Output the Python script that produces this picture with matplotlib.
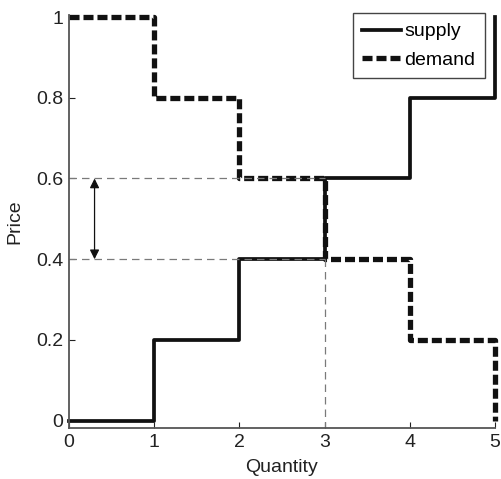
import numpy as np
import matplotlib.pyplot as plt

plt.rcParams['font.family'] = ['Liberation Sans', 'DejaVu Sans']

# step curves: value on [q, q+1)
quantity = [0, 1, 2, 3, 4, 5]
supply = [0, 0.2, 0.4, 0.6, 0.8, 1.0]
demand = [1.0, 0.8, 0.6, 0.4, 0.2, 0.0]

price_hi = 0.6
price_lo = 0.4
q_star = 3
arrow_q = 0.3

fig = plt.figure(figsize=(5.01, 4.79), dpi=100)
ax = fig.add_axes([0.1377, 0.1065, 0.8503, 0.8622])

ax.step(quantity, supply, where='post', color='#111111', lw=2.7, label='supply',
        clip_on=False)
ax.step(quantity, demand, where='post', color='#111111', lw=3.8, label='demand',
        dashes=(1.9, 0.75), dash_capstyle='butt', clip_on=False)

# reference lines for the price gap
grey = '#7a7a7a'
ax.plot([0, q_star], [price_hi, price_hi], ls=(0, (6, 4)), color=grey, lw=0.9)
ax.plot([0, q_star], [price_lo, price_lo], ls=(0, (6, 4)), color=grey, lw=0.9)
ax.plot([q_star, q_star], [-0.02, price_lo], ls=(0, (6, 4)), color=grey, lw=0.9)

ax.annotate('', xy=(arrow_q, price_hi), xytext=(arrow_q, price_lo),
            arrowprops=dict(arrowstyle='<|-|>', color='#111111', lw=0.9,
                            mutation_scale=14, shrinkA=0, shrinkB=0))

ax.set_xlim(0, 5)
ax.set_ylim(-0.018, 1.005)
ax.set_xticks(quantity)
ax.set_yticks([0, 0.2, 0.4, 0.6, 0.8, 1])
ax.set_yticklabels(['0', '0.2', '0.4', '0.6', '0.8', '1'])
ax.tick_params(direction='in', length=4, labelsize=14, colors='#222222', pad=4)
for s in ('top', 'right'):
    ax.spines[s].set_visible(False)
for s in ('left', 'bottom'):
    ax.spines[s].set_color('#555555')
    ax.spines[s].set_linewidth(1.3)

ax.set_xlabel('Quantity', fontsize=14, color='#222222', labelpad=6)
ax.set_ylabel('Price', fontsize=14, color='#222222', labelpad=9)

leg = ax.legend(loc='upper right', bbox_to_anchor=(0.9765, 1.0048),
                borderaxespad=0, fontsize=14, handlelength=2.0,
                handletextpad=0.15, borderpad=0.5, labelspacing=0.55,
                fancybox=False, edgecolor='#444444', framealpha=1)
leg.get_frame().set_linewidth(1.0)

fig.savefig('out.png', dpi=100)
